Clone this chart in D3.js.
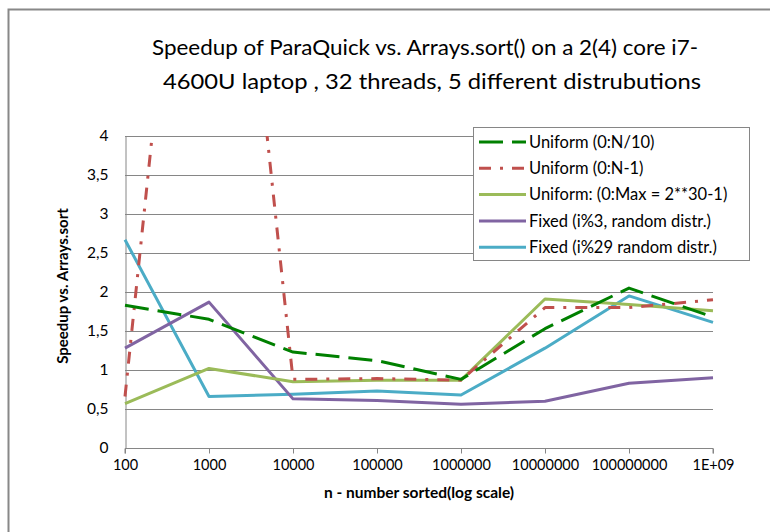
<!DOCTYPE html>
<html><head><meta charset="utf-8">
<script src="https://cdn.jsdelivr.net/npm/d3@7"></script>
<style>body{margin:0;background:#fff}svg{display:block}text{font-family:Lato,"Open Sans",sans-serif;fill:#000}</style>
</head><body><svg id="c" width="770" height="532"></svg>
<script>
const categories = ["100","1000","10000","100000","1000000","10000000","100000000","1E+09"];
const uniformN10 = [1.83,1.65,1.23,1.12,0.88,1.53,2.05,1.68];
const uniformN1  = [0.66,11.0,0.88,0.89,0.87,1.80,1.80,1.90];
const uniformMax = [0.57,1.02,0.85,0.87,0.87,1.91,1.84,1.76];
const fixed3     = [1.28,1.87,0.63,0.61,0.56,0.60,0.83,0.90];
const fixed29    = [2.67,0.66,0.69,0.73,0.68,1.28,1.95,1.61];
const yTicks = [0,0.5,1,1.5,2,2.5,3,3.5,4];
const seriesNames = ["Uniform (0:N/10)","Uniform (0:N-1)","Uniform: (0:Max = 2**30-1)","Fixed (i%3, random distr.)","Fixed (i%29 random distr.)"];
const seriesData = [uniformN10,uniformN1,uniformMax,fixed3,fixed29];
const colors = ["#008000","#C0504D","#9BBB59","#8064A2","#4BACC6"];
const dashes = ["24,9","12,9,3,9",null,null,null];

const svg = d3.select("#c");
const L=125,R=713,T=136,B=448;
const x = d3.scalePoint().domain(categories).range([L,R]);
const y = d3.scaleLinear().domain([0,4]).range([B,T]);
const grid="#868686";

svg.append("rect").attr("x",8.5).attr("y",9.5).attr("width",800).attr("height",600)
  .attr("fill","#fff").attr("stroke","#888").attr("stroke-width",2);

svg.append("text").attr("x",425).attr("y",55).attr("text-anchor","middle").attr("font-size",21)
  .attr("textLength",546).attr("lengthAdjust","spacingAndGlyphs")
  .text("Speedup of ParaQuick vs. Arrays.sort() on a 2(4) core i7-");
svg.append("text").attr("x",432).attr("y",89).attr("text-anchor","middle").attr("font-size",21)
  .attr("textLength",538).attr("lengthAdjust","spacingAndGlyphs")
  .text("4600U laptop ,  32 threads, 5 different distrubutions");

// gridlines
svg.append("g").selectAll("line").data(yTicks.filter(d=>d>0)).join("line")
  .attr("x1",L).attr("x2",R).attr("y1",d=>Math.round(y(d))+0.5).attr("y2",d=>Math.round(y(d))+0.5)
  .attr("stroke",grid).attr("stroke-width",1);

// y axis
const yAxis = d3.axisLeft(y).tickValues(yTicks).tickSize(0).tickPadding(17)
  .tickFormat(d=>String(d).replace(".",","));
const gy = svg.append("g").attr("transform",`translate(${L+0.5},0)`).call(yAxis);
gy.select(".domain").attr("stroke",grid);
gy.selectAll("text").attr("font-size",15.5).attr("font-family","Lato");

// x axis
const xAxis = d3.axisBottom(x).tickSize(5).tickPadding(6);
const gx = svg.append("g").attr("transform",`translate(0,${B+0.5})`).call(xAxis);
gx.select(".domain").attr("stroke",grid).attr("d",`M${L},5V0H${R}V5`);
gx.selectAll(".tick line").attr("stroke",grid);
gx.selectAll("text").attr("font-size",14.5).attr("font-family","Lato");

svg.append("text").attr("x",419).attr("y",498).attr("text-anchor","middle")
  .attr("font-size",15.5).attr("font-weight","bold").text("n - number sorted(log scale)");
svg.append("text").attr("transform","translate(68,286) rotate(-90)").attr("text-anchor","middle")
  .attr("font-size",15).attr("font-weight","bold").text("Speedup vs. Arrays.sort");

svg.append("clipPath").attr("id","pc").append("rect").attr("x",L-5).attr("y",T).attr("width",R-L+10).attr("height",B-T+5);

const line = d3.line().x((d,i)=>x(categories[i])).y(d=>y(d));
const order=[4,3,2,1,0];
const lg = svg.append("g").attr("clip-path","url(#pc)");
order.forEach(k=>{
  lg.append("path").datum(seriesData[k]).attr("d",line).attr("fill","none")
    .attr("stroke",colors[k]).attr("stroke-width",3).attr("stroke-linejoin","round")
    .attr("stroke-dasharray",dashes[k]);
});

// legend
const leg = svg.append("g");
leg.append("rect").attr("x",473.5).attr("y",127.5).attr("width",276).attr("height",133)
  .attr("fill","#fff").attr("stroke",grid).attr("stroke-width",1);
seriesNames.forEach((n,i)=>{
  const yy = 142 + i*26.3;
  leg.append("line").attr("x1",479).attr("x2",526).attr("y1",yy).attr("y2",yy)
    .attr("stroke",colors[i]).attr("stroke-width",3).attr("stroke-dasharray",dashes[i]);
  leg.append("text").attr("x",529).attr("y",yy).attr("dy","0.35em").attr("font-size",16.5).text(n);
});
</script></body></html>
